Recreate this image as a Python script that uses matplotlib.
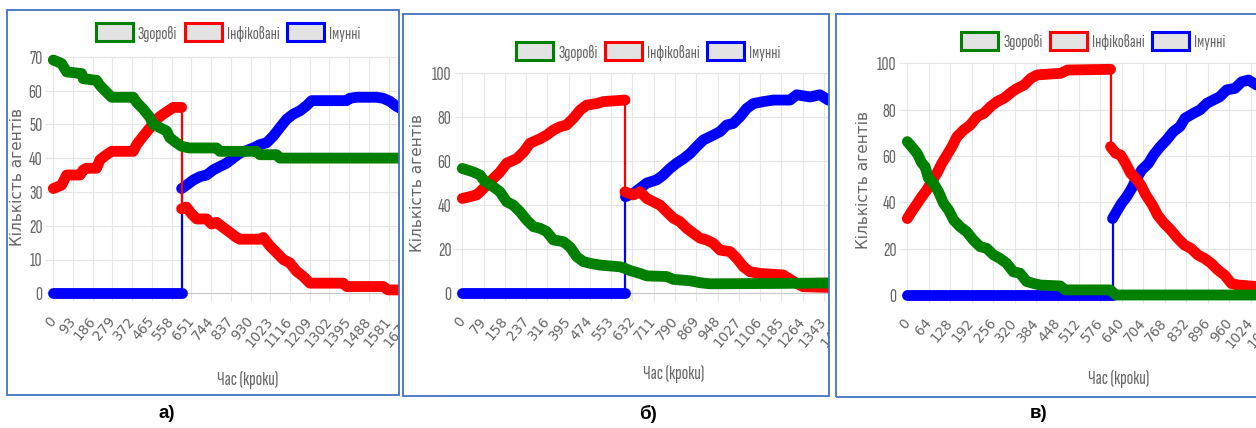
import numpy as np
import matplotlib
matplotlib.use('Agg')
import matplotlib.pyplot as plt
from matplotlib.patches import Rectangle, Patch

W, H = 1256, 428

labels = ['Здорові', 'Інфіковані', 'Імунні']
colors = ['#008000', '#ff0000', '#0000ff']
captions = ['а)', 'б)', 'в)']

# ---- панель а) ----
a_green_x = [0, 39, 63, 134, 141, 204, 220, 251, 275, 377, 393, 424, 456, 471, 503, 534, 550, 581, 605, 640,
             770, 785, 958, 974, 1053, 1068, 1700]
a_green_y = [69, 68, 65.5, 65, 63.5, 63, 61.5, 59.5, 58, 58, 56.5, 54.5, 52, 50, 49, 48, 46, 44.5, 43.5, 43,
             43, 42, 42, 41, 41, 40, 40]
a_red_x = [0, 39, 63, 126, 141, 157, 204, 220, 251, 275, 377, 393, 424, 456, 487, 518, 542, 566, 605,
           605, 628, 652, 676, 723, 746, 770, 790, 833, 864, 880, 974, 990, 1021, 1053, 1084, 1115, 1147,
           1178, 1210, 1367, 1383, 1555, 1579, 1700]
a_red_y = [31, 32, 35, 35, 36.5, 37, 37, 39.5, 41, 42, 42, 44, 46.5, 49, 51.5, 53, 54, 55, 55,
           25, 25.5, 23.5, 22, 22, 20.5, 21, 20, 18, 16.5, 16, 16, 16.5, 14, 12, 10, 9, 6.5,
           5, 3, 3, 2, 2, 1, 1]
a_blue_x = [0, 605, 605, 628, 660, 691, 723, 754, 785, 817, 848, 880, 943, 974, 1005, 1037, 1068, 1100,
            1131, 1163, 1194, 1218, 1383, 1398, 1430, 1524, 1555, 1587, 1618, 1660]
a_blue_y = [0, 0, 31, 32, 33.5, 34.5, 35, 36.5, 37.5, 38.5, 40, 41.5, 43, 44, 44.5, 46.5, 49, 51.5,
            53, 54, 55.5, 57, 57, 57.7, 58, 58, 57.7, 56.8, 55.3, 54]

# ---- панель б) ----
b_green_x = [0, 41, 66, 84, 115, 140, 165, 189, 214, 239, 264, 288, 313, 338, 375, 400, 425, 449, 474, 511,
             586, 604, 623, 660, 685, 759, 784, 846, 883, 920, 1200, 1440]
b_green_y = [56.6, 55, 53.6, 50.6, 48.3, 46, 41.5, 40, 37, 33.2, 30.2, 29.5, 28, 24.2, 23.4, 21, 16.6, 14.4,
             13.6, 12.8, 12, 11.3, 10.3, 9, 7.9, 7.6, 6.3, 5.7, 4.8, 4.3, 4.5, 4.8]
b_red_x = [0, 28, 53, 66, 90, 115, 140, 165, 202, 227, 251, 288, 313, 338, 363, 387, 412, 437, 462, 499,
           524, 604, 604, 635, 660, 685, 709, 734, 759, 784, 808, 833, 858, 883, 907, 932, 957, 994, 1019,
           1044, 1068, 1106, 1192, 1211, 1242, 1266, 1353, 1440]
b_red_y = [43, 43.8, 44.6, 46, 49, 52, 55, 59, 61, 64, 68, 70, 71.7, 74, 75.5, 76.3, 79.3, 83, 85.3, 86,
           86.9, 87.6, 46, 44.6, 46, 43, 41.5, 40, 37, 34, 32.5, 29.5, 27.2, 25, 24.2, 22.7, 19.6, 18.9, 15.9,
           12, 9.8, 9, 8.3, 6.8, 4.5, 3, 2.7, 2.7]
b_blue_x = [0, 606, 606, 635, 660, 685, 722, 746, 771, 796, 821, 846, 870, 895, 932, 957, 982, 1006, 1031,
            1056, 1081, 1118, 1155, 1217, 1242, 1291, 1328, 1359, 1440]
b_blue_y = [0, 0, 43.8, 45.3, 47.6, 50, 51.4, 53.6, 56.6, 59, 61, 63.4, 66.5, 69.5, 71.7, 73.3, 76.3, 77, 80,
            83.8, 86, 86.9, 87.6, 87.6, 90, 89, 90, 87.6, 87]

# ---- панель в) ----
c_green_x = [0, 13, 30, 43, 53, 63, 78, 93, 108, 123, 138, 157, 177, 197, 217, 237, 257, 276, 296, 316,
             336, 356, 376, 396, 456, 471, 605, 622, 1100]
c_green_y = [66.2, 64, 61, 57, 55.4, 50.4, 48.2, 44.6, 39.6, 36.7, 32.4, 29.5, 27.3, 23.7, 20.9, 20.1, 17.3,
             15.8, 13.7, 10, 9.4, 5.8, 5, 4.3, 3.9, 2.2, 2.2, 0, 0]
c_red_x = [0, 13, 30, 43, 58, 73, 88, 103, 118, 133, 148, 168, 188, 208, 228, 248, 268, 288, 313, 328, 348,
           368, 388, 458, 478, 606, 606, 621, 636, 651, 666, 681, 696, 711, 731, 746, 766, 786, 806, 826,
           846, 866, 886, 906, 926, 946, 966, 986, 1046, 1100]
c_red_y = [33, 36, 39.6, 42.4, 45.3, 49, 52.5, 56.8, 60.4, 64, 68.3, 71.2, 73.4, 77, 78.4, 81.3, 83.5, 84.9,
           87.8, 89.2, 90.6, 93.5, 95, 95.7, 97.1, 97.4, 64, 61.2, 60.4, 56.8, 52.5, 50.4, 47.5, 43.2, 38.8,
           34.5, 30.9, 28, 24.5, 21.6, 20.1, 17.3, 15.8, 13.7, 10.8, 8.6, 5, 4.3, 3.6, 3.5]
c_blue_x = [0, 612, 612, 624, 639, 654, 669, 684, 699, 719, 734, 754, 773, 793, 813, 828, 853, 873, 893,
            913, 932, 952, 977, 997, 1017, 1042, 1100]
c_blue_y = [0, 0, 33, 36, 39.6, 42.4, 46, 50.4, 54, 56.8, 60.4, 64, 66.9, 70.5, 72.7, 76.3, 78.4, 79.9,
            82.7, 84.2, 85.6, 88.5, 89.2, 92, 92.8, 90.6, 89]

narrow = ['Sofia Sans Extra Condensed', 'Fira Sans Extra Condensed', 'Roboto Condensed', 'DejaVu Sans']
grey = '#666666'
gridc = '#e6e6e6'

# layout in pixels of the source picture
panels = [
    dict(frame=(7, 10, 399, 395), origin=(53.3, 293.3), top=56.7, ymax=70, ystep=10, sx=0.2121, xstep=93,
         right=412, legend=(228, 32.5), ylab=(18, 177), xlab=(248, 380), cap=(167, 414),
         series=[(a_green_x, a_green_y), (a_red_x, a_red_y), (a_blue_x, a_blue_y)]),
    dict(frame=(403, 14, 829, 396), origin=(462.3, 293.3), top=72.7, ymax=100, ystep=20, sx=0.2693, xstep=79,
         right=850, legend=(648.5, 51.5), ylab=(418, 183), xlab=(674, 374), cap=(648, 414),
         series=[(b_green_x, b_green_y), (b_red_x, b_red_y), (b_blue_x, b_blue_y)]),
    dict(frame=(836, 14, 1262, 397), origin=(907.3, 295), top=63.3, ymax=100, ystep=20, sx=0.3354, xstep=64,
         right=1275, legend=(1093.5, 41), ylab=(863, 180), xlab=(1119, 379), cap=(1039, 414),
         series=[(c_green_x, c_green_y), (c_red_x, c_red_y), (c_blue_x, c_blue_y)]),
]

fig = plt.figure(figsize=(W / 100, H / 100), dpi=100)


def fx(px):
    return px / W


def fy(py):
    return 1 - py / H


def draw_series(ax, xs, ys, color, z, clip):
    xs = np.asarray(xs, dtype=float)
    ys = np.asarray(ys, dtype=float)
    cut = np.where(np.diff(xs) == 0)[0]  # vertical jumps are thin lines
    for part in np.split(np.arange(len(xs)), cut + 1):
        ln, = ax.plot(xs[part], ys[part], color=color, lw=7.8, solid_capstyle='round',
                      solid_joinstyle='round', zorder=z)
        ln.set_clip_path(clip)
    for c in cut:
        ln, = ax.plot(xs[c:c + 2], ys[c:c + 2], color=color, lw=1.6, zorder=z)
        ln.set_clip_path(clip)


for i, p in enumerate(panels):
    x0, y0, x1, y1 = p['frame']
    frame = Rectangle((fx(x0), fy(y1)), fx(x1 - x0), (y1 - y0) / H, transform=fig.transFigure,
                      fill=False, edgecolor='#4472c4', linewidth=1.3)
    fig.patches.append(frame)

    ox, oy = p['origin']
    ax = fig.add_axes([fx(ox), fy(oy), fx(p['right'] - ox), (oy - p['top']) / H])
    ax.patch.set_visible(False)
    xmax = (p['right'] - ox) / p['sx']
    ax.set_xlim(0, xmax)
    ax.set_ylim(0, p['ymax'])
    for s in ax.spines.values():
        s.set_visible(False)

    # blue under red under green
    for k in (2, 1, 0):
        xs, ys = p['series'][k]
        draw_series(ax, xs, ys, colors[k], 3 + (2 - k), frame)

    ax.set_xticks(np.arange(0, xmax + 1, p['xstep']))
    ax.set_yticks(np.arange(0, p['ymax'] + 1, p['ystep']))
    ax.grid(True, color=gridc, lw=0.8, zorder=0)
    ax.set_axisbelow(True)
    ax.tick_params(axis='both', length=5.8, width=0.8, color=gridc, labelcolor=grey)
    ax.tick_params(axis='y', pad=2, labelsize=14)
    ax.tick_params(axis='x', pad=12.5, labelsize=9.8)
    for lab in ax.get_yticklabels():
        lab.set_family(narrow)
    for lab in ax.get_xticklabels():
        lab.set_family('DejaVu Sans')
        lab.set_rotation(50)
        lab.set_ha('right')
        lab.set_va('center')
        lab.set_rotation_mode('anchor')
    for t in ax.xaxis.get_major_ticks() + ax.yaxis.get_major_ticks():
        t.gridline.set_clip_path(frame)
        t.tick1line.set_clip_path(frame)
        t.label1.set_clip_path(frame)
    ax.yaxis.get_major_ticks()[0].gridline.set_color('#c8c8c8')

    ax.set_ylabel('Кількість агентів', color=grey, fontsize=11, family='DejaVu Sans', va='center')
    ax.yaxis.set_label_coords(fx(p['ylab'][0]), fy(p['ylab'][1]), transform=fig.transFigure)
    ax.set_xlabel('Час (кроки)', color=grey, fontsize=14, family=narrow, va='center')
    ax.xaxis.set_label_coords(fx(p['xlab'][0]), fy(p['xlab'][1]), transform=fig.transFigure)

    handles = [Patch(facecolor='#e3e3e3', edgecolor=c, linewidth=2.2, label=l)
               for c, l in zip(colors, labels)]
    leg = ax.legend(handles=handles, loc='center', bbox_to_anchor=(fx(p['legend'][0]), fy(p['legend'][1])),
                    bbox_transform=fig.transFigure, ncol=3, frameon=False,
                    prop={'family': narrow, 'size': 13}, handlelength=2.05, handleheight=1.15,
                    handletextpad=0.27, columnspacing=0.42, borderpad=0, borderaxespad=0)
    for t in leg.get_texts():
        t.set_color(grey)

    fig.text(fx(p['cap'][0]), fy(p['cap'][1]), captions[i], ha='center', va='center',
             fontsize=13.5, fontweight='bold', family='Liberation Sans', color='black')

fig.savefig('out.png', dpi=100)
